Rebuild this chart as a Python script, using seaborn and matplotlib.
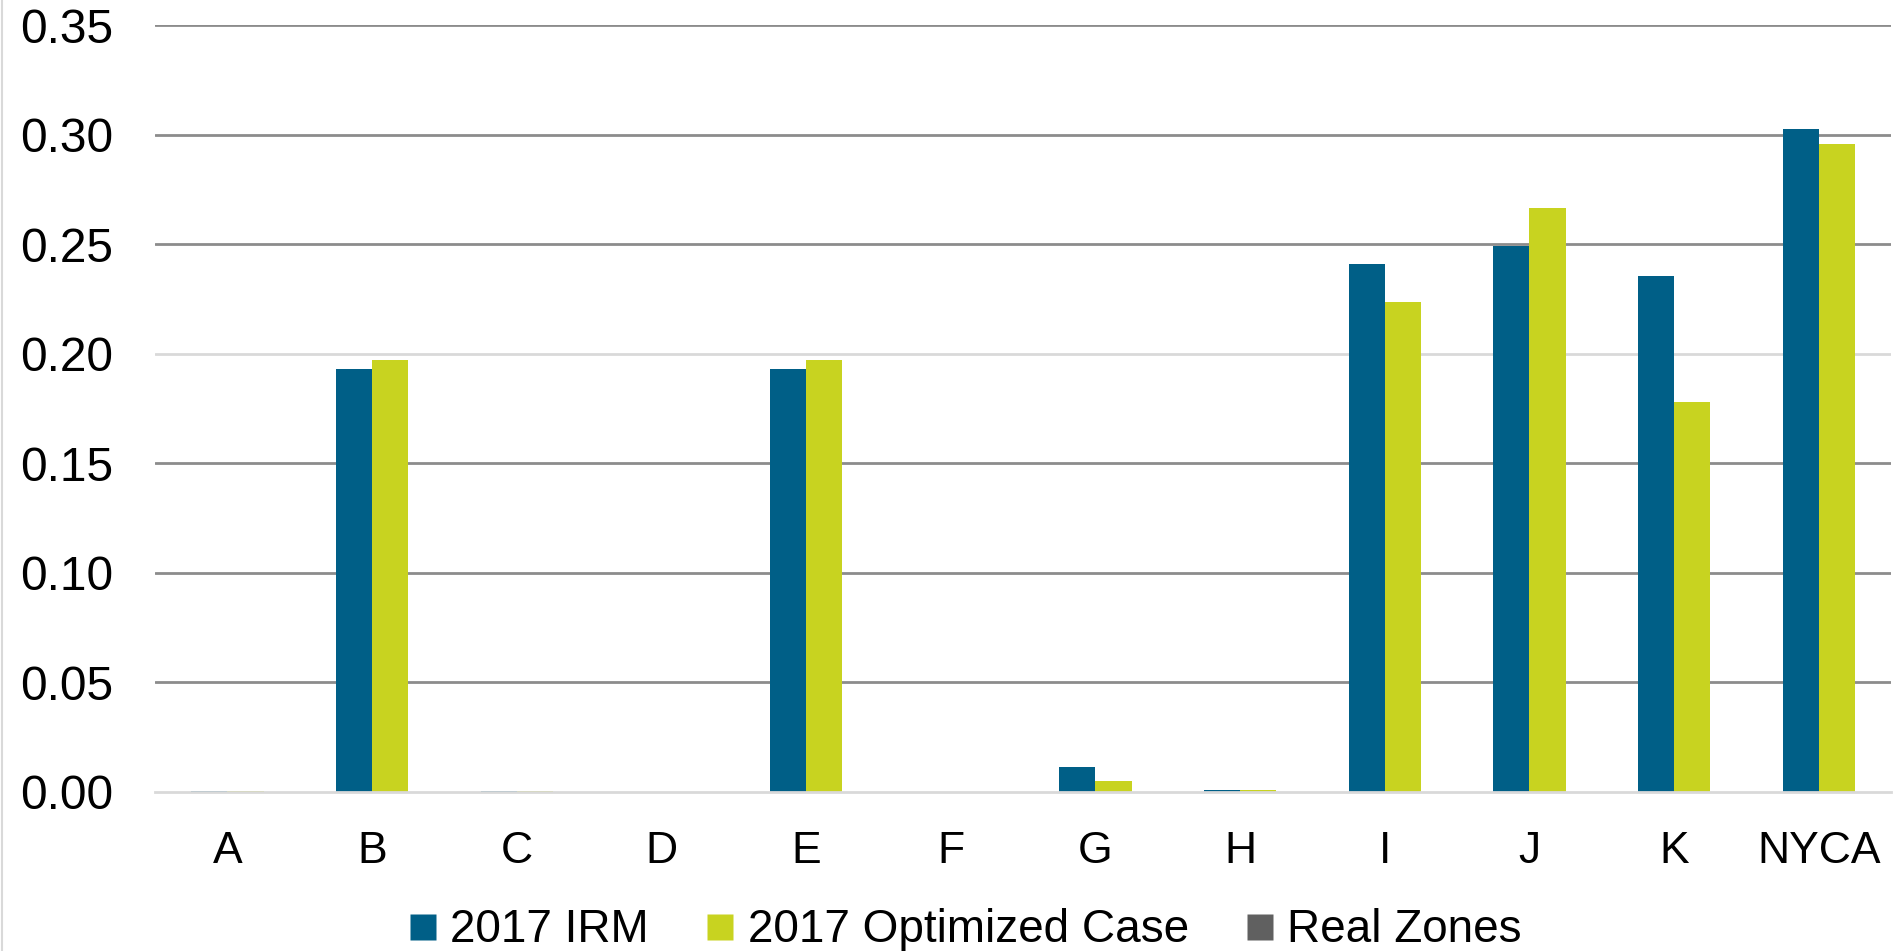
import matplotlib
matplotlib.use("Agg")
import matplotlib.pyplot as plt
from matplotlib.lines import Line2D
import seaborn as sns
import pandas as pd
import numpy as np

categories = ["A", "B", "C", "D", "E", "F", "G", "H", "I", "J", "K", "NYCA"]
irm_2017 = [0.0003, 0.1932, 0.0003, 0.0, 0.1932, 0.0, 0.0113, 0.0010, 0.2412, 0.2495, 0.2355, 0.3026]
optimized_2017 = [0.0003, 0.1972, 0.0003, 0.0, 0.1972, 0.0, 0.0049, 0.0010, 0.2238, 0.2668, 0.1782, 0.2959]
series_names = ["2017 IRM", "2017 Optimized Case", "Real Zones"]
yticks = [0.00, 0.05, 0.10, 0.15, 0.20, 0.25, 0.30, 0.35]

colors = {"2017 IRM": "#005f87", "2017 Optimized Case": "#c8d320", "Real Zones": "#606060"}

df = pd.DataFrame({"Zone": categories, series_names[0]: irm_2017, series_names[1]: optimized_2017})
long = df.melt(id_vars="Zone", var_name="Series", value_name="Value")

sns.set_style("white")
plt.rcParams["font.family"] = ["Liberation Sans", "DejaVu Sans"]
plt.rcParams["text.color"] = "black"

fig = plt.figure(figsize=(18.95, 9.51), dpi=100)
ax = fig.add_axes([0.0818, 0.1672, 0.9161, 0.8061])

sns.barplot(data=long, x="Zone", y="Value", hue="Series", order=categories,
            hue_order=series_names[:2], palette=colors, width=0.5, gap=0,
            saturation=1, edgecolor="none", linewidth=0, ax=ax, legend=False)

ax.set_ylim(0, 0.35)
ax.set_xlim(-0.5, len(categories) - 0.5)
ax.set_yticks(yticks)
ax.set_yticklabels([f"{v:.2f}" for v in yticks], fontsize=34.5, color="black")
ax.set_xlabel("")
ax.set_ylabel("")

# gridlines
for v in yticks[1:]:
    c = "#d9d9d9" if abs(v - 0.20) < 1e-9 else "#8c8c8c"
    ax.axhline(v, color=c, linewidth=2, zorder=0)

for s in ["top", "right", "left"]:
    ax.spines[s].set_visible(False)
ax.spines["bottom"].set_color("#d9d9d9")
ax.spines["bottom"].set_linewidth(2)

ax.tick_params(axis="y", length=0, pad=30)
ax.tick_params(axis="x", which="major", length=0, pad=28)
ax.set_xticks(np.arange(-0.5, len(categories), 1), minor=True)
ax.tick_params(axis="x", which="minor", length=11, width=1.5, color="#d9d9d9")
for lab in ax.get_xticklabels():
    lab.set_fontfamily(["Liberation Sans Narrow", "Liberation Sans", "DejaVu Sans"])
    lab.set_fontsize(32)
    lab.set_color("black")

handles = [Line2D([], [], marker="s", linestyle="none", markersize=18.7,
                  markerfacecolor=colors[n], markeredgecolor="none", label=n)
           for n in series_names]
fig.legend(handles=handles, loc="center", bbox_to_anchor=(0.5095, 0.022), ncol=3,
           frameon=False, fontsize=33, handlelength=0.6, handleheight=0.6,
           handletextpad=0.3, columnspacing=1.25, labelcolor="black")

fig.add_artist(Line2D([0.0008, 0.0008], [0, 1], transform=fig.transFigure,
                      color="#d9d9d9", linewidth=1.5))

fig.savefig("out.png", dpi=100, facecolor="white")
